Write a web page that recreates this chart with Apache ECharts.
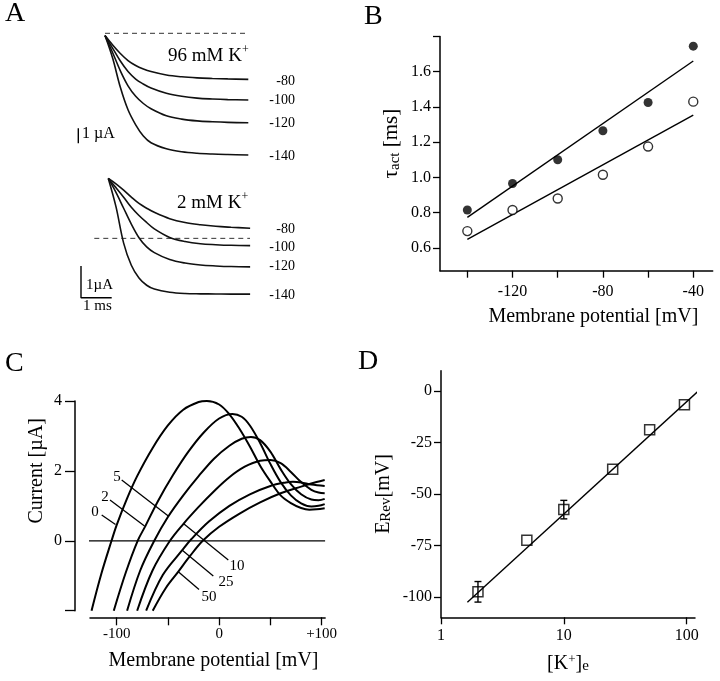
<!DOCTYPE html>
<html><head><meta charset="utf-8">
<script src="https://cdn.jsdelivr.net/npm/echarts@6/dist/echarts.min.js"></script>
<style>html,body{margin:0;padding:0;background:#fff}#c{width:720px;height:681px}</style>
</head><body><div id="c"></div>
<script>
// ---------- Panel A: current traces (time in ms, current in µA) ----------
const tA = [0, 0.25, 0.5, 0.75, 1.0, 1.25, 1.5, 2.0, 2.5, 3.0, 3.5, 4.0, 4.67];
const tB = [0, 0.25, 0.5, 0.75, 1.0, 1.25, 1.5, 2.0, 2.5, 3.0, 3.5, 4.0, 4.62];
const a96_m80  = [-0.15, -0.78, -1.35, -1.82, -2.15, -2.38, -2.55, -2.78, -2.9, -2.97, -3.01, -3.04, -3.07];
const a96_m100 = [-0.15, -1.0, -1.85, -2.55, -3.05, -3.38, -3.65, -4.0, -4.2, -4.32, -4.38, -4.42, -4.45];
const a96_m120 = [-0.15, -1.3, -2.5, -3.5, -4.2, -4.68, -5.03, -5.5, -5.72, -5.84, -5.9, -5.94, -5.96];
const a96_m140 = [-0.15, -1.67, -3.6, -5.1, -6.1, -6.85, -7.3, -7.7, -7.9, -8.0, -8.05, -8.08, -8.11];
const a2_m80  = [1.89, 1.72, 1.52, 1.3, 1.1, 0.95, 0.82, 0.62, 0.5, 0.43, 0.38, 0.35, 0.32];
const a2_m100 = [1.89, 1.6, 1.3, 0.98, 0.72, 0.5, 0.3, 0.03, -0.1, -0.17, -0.2, -0.22, -0.23];
const a2_m120 = [1.89, 1.45, 0.95, 0.45, 0.02, -0.27, -0.45, -0.67, -0.78, -0.84, -0.87, -0.89, -0.9];
const a2_m140 = [1.89, 1.0, -0.15, -0.85, -1.25, -1.48, -1.6, -1.7, -1.74, -1.75, -1.755, -1.76, -1.76];
const stepLabels = ['-80', '-100', '-120', '-140'];

// ---------- Panel B: tau_act vs membrane potential ----------
const potB = [-140, -120, -100, -80, -60, -40];
const tau96 = [0.815, 0.965, 1.10, 1.265, 1.425, 1.745];
const tau2 = [0.695, 0.815, 0.88, 1.015, 1.175, 1.43];
const fit96 = [[-140, 0.773], [-40, 1.661]];
const fit2 = [[-140, 0.648], [-40, 1.354]];

// ---------- Panel C: I-V curves for different [K+]e (mM) ----------
const ivLabels = ['0', '2', '5', '10', '25', '50'];
const ivK0 = [[-124.5,-2],[-115,-0.95],[-105,0],[-100,0.45],[-90,1.2],[-80,1.85],[-65,2.65],[-50,3.3],[-35,3.75],[-20,3.97],[-12,4.0],[0,3.9],[10,3.62],[20,3.2],[30,2.7],[40,2.15],[50,1.7],[60,1.3],[70,1.08],[80,0.94],[88,0.89],[95,0.9],[103,0.93]];
const ivK2 = [[-102.8,-2],[-91,-0.9],[-79.5,0],[-72,0.42],[-60,1.12],[-45,1.88],[-30,2.55],[-15,3.1],[0,3.5],[13,3.63],[22,3.55],[30,3.3],[40,2.8],[50,2.2],[60,1.68],[70,1.3],[80,1.07],[90,0.98],[97,1.0],[103,1.05]];
const ivK5 = [[-89.8,-2],[-77,-0.85],[-63.3,0],[-50,0.68],[-35,1.3],[-20,1.85],[-5,2.35],[10,2.72],[22,2.92],[31,2.97],[40,2.88],[50,2.55],[60,2.05],[70,1.62],[80,1.33],[90,1.18],[97,1.16],[103,1.2]];
const ivK10 = [[-80,-2],[-65,-0.85],[-48,0],[-35,0.48],[-20,0.97],[-5,1.42],[10,1.82],[25,2.12],[40,2.29],[50,2.31],[60,2.22],[70,1.97],[80,1.68],[90,1.46],[97,1.38],[103,1.36]];
const ivK25 = [[-71.2,-2],[-55,-0.98],[-36,-0.27],[-27,0.05],[-10,0.55],[10,1.0],[30,1.33],[50,1.57],[65,1.67],[72,1.69],[80,1.67],[90,1.61],[103,1.57]];
const ivK50 = [[-64.8,-2],[-52,-1.35],[-40,-0.89],[-28,-0.42],[-16,0],[0,0.4],[20,0.78],[40,1.1],[60,1.36],[80,1.55],[95,1.68],[103,1.74]];
const zeroLineC = [[-140.6, 0], [103.4, 0]];

// ---------- Panel D: reversal potential vs [K+]e ----------
const kD = [2, 5, 10, 25, 50, 96];
const erevD = [-97.6, -72.5, -57.6, -37.9, -18.7, -6.6];
const errD = [5, 0, 4.5, 0, 0, 0];
const fitD = [[1.64, -102.7], [127.6, 0.7]];

const FF = "'Liberation Serif','DejaVu Serif',serif";
const zip = (t, v) => t.map((x, i) => [x, v[i]]);

const traceSeries = (data, gi) => ({
  type: 'line', xAxisIndex: gi, yAxisIndex: gi, data, showSymbol: false, symbol: 'none',
  smooth: 0.35, lineStyle: { color: '#111', width: 1.6 }, silent: true, z: 3
});
const ivSeries = (data) => ({
  type: 'line', xAxisIndex: 3, yAxisIndex: 3, data, showSymbol: false, symbol: 'none',
  smooth: 0.35, lineStyle: { color: '#000', width: 2 }, silent: true, clip: false
});
const hidden = (gi, min, max) => ({ type: 'value', gridIndex: gi, min, max, show: false });
const axLine = { show: true, onZero: false, lineStyle: { color: '#000', width: 1.5 } };
const lbl = (size, margin, extra) => Object.assign({ color: '#000', fontFamily: FF, fontSize: size, margin }, extra);

const option = {
  animation: false,
  textStyle: { fontFamily: FF, color: '#000' },
  grid: [
    { left: 78, top: 25.8, width: 170.3, height: 142.5, outerBoundsMode: 'none' },
    { left: 81, top: 168.6, width: 169, height: 139.5, outerBoundsMode: 'none' },
    { left: 440, top: 36.5, width: 272.7, height: 234.2, outerBoundsMode: 'none' },
    { left: 90, top: 401, width: 235.1, height: 209.7, outerBoundsMode: 'none' },
    { left: 441, top: 370.7, width: 254, height: 246.6, outerBoundsMode: 'none' }
  ],
  xAxis: [
    hidden(0, -0.88, 4.67),
    hidden(1, -0.889, 4.616),
    { type: 'value', gridIndex: 2, min: -152.1, max: -31.4, splitLine: { show: false }, axisLine: axLine,
      axisTick: { show: true, length: 7, lineStyle: { color: '#000', width: 1.3 }, customValues: [-140, -120, -100, -80, -60, -40] },
      axisLabel: lbl(16, 13, { customValues: [-120, -80, -40] }),
      name: 'Membrane potential [mV]', nameLocation: 'middle', nameGap: 36,
      nameTextStyle: { fontFamily: FF, fontSize: 20, color: '#000', padding: [0, 0, 0, 34] } },
    { type: 'value', gridIndex: 3, min: -126, max: 103.4, offset: 6.6, splitLine: { show: false }, axisLine: axLine,
      axisTick: { show: true, length: 8, lineStyle: { color: '#000', width: 1.3 }, customValues: [-100, -50, 0, 50, 100] },
      axisLabel: lbl(15, 9, { customValues: [-100, 0, 100], formatter: v => (v > 0 ? '+' + v : String(v)) }),
      name: 'Membrane potential [mV]', nameLocation: 'middle', nameGap: 33,
      nameTextStyle: { fontFamily: FF, fontSize: 20, color: '#000', padding: [0, 0, 0, 12] } },
    { type: 'log', gridIndex: 4, min: 1, max: 117, logBase: 10, splitLine: { show: false }, axisLine: axLine,
      axisTick: { show: true, length: 7, lineStyle: { color: '#000', width: 1.3 }, customValues: [1, 10, 100] },
      axisLabel: lbl(16, 10, { customValues: [1, 10, 100] }), minorTick: { show: false },
      name: '{m|[K}{sup|+}{m|]}{sub|e}', nameLocation: 'middle', nameGap: 36,
      nameTextStyle: { fontFamily: FF, color: '#000',
        rich: { m: { fontSize: 20, fontFamily: FF, lineHeight: 20, verticalAlign: 'top', padding: [0, 0, 5, 0] },
                sup: { fontSize: 13, fontFamily: FF, lineHeight: 13, verticalAlign: 'top' },
                sub: { fontSize: 15, fontFamily: FF, lineHeight: 15, verticalAlign: 'bottom' } } } }
  ],
  yAxis: [
    hidden(0, -9, 0.5),
    hidden(1, -2.2, 2.2),
    { type: 'value', gridIndex: 2, min: 0.47, max: 1.8, splitLine: { show: false }, axisLine: axLine,
      axisTick: { show: true, length: 7, lineStyle: { color: '#000', width: 1.3 }, customValues: [0.6, 0.8, 1.0, 1.2, 1.4, 1.6, 1.8] },
      axisLabel: lbl(16, 9, { customValues: [0.6, 0.8, 1.0, 1.2, 1.4, 1.6], formatter: v => v.toFixed(1) }),
      name: '{m|τ}{sub|act}{m| [ms]}', nameLocation: 'middle', nameGap: 36, nameRotate: 90,
      nameTextStyle: { fontFamily: FF, color: '#000', padding: [0, 0, 0, 20],
        rich: { m: { fontSize: 21, fontFamily: FF, lineHeight: 21, verticalAlign: 'top', padding: [0, 0, 5, 0] },
                sub: { fontSize: 15, fontFamily: FF, lineHeight: 15, verticalAlign: 'bottom' } } } },
    { type: 'value', gridIndex: 3, min: -2, max: 4, offset: 15, splitLine: { show: false }, axisLine: axLine,
      axisTick: { show: true, length: 10, lineStyle: { color: '#000', width: 1.3 }, customValues: [-2, 0, 2, 4] },
      axisLabel: lbl(16, 13, { customValues: [0, 2, 4] }),
      name: 'Current [µA]', nameLocation: 'middle', nameGap: 28, nameRotate: 90,
      nameTextStyle: { fontFamily: FF, fontSize: 20, color: '#000', padding: [0, 0, 0, 70] } },
    { type: 'value', gridIndex: 4, min: -110, max: 10, splitLine: { show: false }, axisLine: axLine,
      axisTick: { show: true, length: 7, lineStyle: { color: '#000', width: 1.3 }, customValues: [-100, -75, -50, -25, 0] },
      axisLabel: lbl(16, 9, { customValues: [-100, -75, -50, -25, 0] }),
      name: '{m|E}{sub|Rev}{m|[mV]}', nameLocation: 'middle', nameGap: 40, nameRotate: 90,
      nameTextStyle: { fontFamily: FF, color: '#000',
        rich: { m: { fontSize: 20, fontFamily: FF, lineHeight: 20, verticalAlign: 'top', padding: [0, 0, 5, 0] },
                sub: { fontSize: 15, fontFamily: FF, lineHeight: 15, verticalAlign: 'bottom' } } } }
  ],
  series: [
    // Panel A, 96 mM
    { type: 'line', xAxisIndex: 0, yAxisIndex: 0, data: [[0, 0], [4.67, 0]], symbol: 'none',
      lineStyle: { color: '#333', width: 1, type: [5, 4] }, silent: true },
    traceSeries(zip(tA, a96_m80), 0), traceSeries(zip(tA, a96_m100), 0),
    traceSeries(zip(tA, a96_m120), 0), traceSeries(zip(tA, a96_m140), 0),
    { type: 'line', xAxisIndex: 0, yAxisIndex: 0, data: [[-0.87, -6.33], [-0.87, -7.33]], symbol: 'none',
      lineStyle: { color: '#000', width: 1.4 }, silent: true },
    // Panel A, 2 mM
    { type: 'line', xAxisIndex: 1, yAxisIndex: 1, data: [[-0.456, 0], [4.616, 0]], symbol: 'none',
      lineStyle: { color: '#333', width: 1, type: [5, 4] }, silent: true },
    traceSeries(zip(tB, a2_m80), 1), traceSeries(zip(tB, a2_m100), 1),
    traceSeries(zip(tB, a2_m120), 1), traceSeries(zip(tB, a2_m140), 1),
    { type: 'line', xAxisIndex: 1, yAxisIndex: 1, data: [[-0.889, -0.874], [-0.889, -1.874], [0.111, -1.874]], symbol: 'none',
      lineStyle: { color: '#000', width: 1.4 }, silent: true },
    // Panel B
    { type: 'line', xAxisIndex: 2, yAxisIndex: 2, data: fit96, symbol: 'none', lineStyle: { color: '#000', width: 1.4 }, silent: true },
    { type: 'line', xAxisIndex: 2, yAxisIndex: 2, data: fit2, symbol: 'none', lineStyle: { color: '#000', width: 1.4 }, silent: true },
    { type: 'scatter', xAxisIndex: 2, yAxisIndex: 2, data: zip(potB, tau96), symbol: 'circle', symbolSize: 9,
      itemStyle: { color: '#000' }, silent: true, z: 5 },
    { type: 'scatter', xAxisIndex: 2, yAxisIndex: 2, data: zip(potB, tau2), symbol: 'circle', symbolSize: 9,
      itemStyle: { color: '#fff', borderColor: '#000', borderWidth: 1.4 }, silent: true, z: 5 },
    // Panel C
    { type: 'line', xAxisIndex: 3, yAxisIndex: 3, data: zeroLineC, symbol: 'none', clip: false,
      lineStyle: { color: '#000', width: 1.3 }, silent: true },
    ivSeries(ivK0), ivSeries(ivK2), ivSeries(ivK5), ivSeries(ivK10), ivSeries(ivK25), ivSeries(ivK50),
    // Panel D
    { type: 'line', xAxisIndex: 4, yAxisIndex: 4, data: fitD, symbol: 'none', clip: false,
      lineStyle: { color: '#000', width: 1.4 }, silent: true },
    { type: 'custom', xAxisIndex: 4, yAxisIndex: 4, silent: true, z: 4,
      data: kD.map((k, i) => [k, erevD[i] - errD[i], erevD[i] + errD[i]]).filter((d, i) => errD[i] > 0),
      renderItem: (params, api) => {
        const lo = api.coord([api.value(0), api.value(1)]);
        const hi = api.coord([api.value(0), api.value(2)]);
        const w = 3.5, st = { stroke: '#000', lineWidth: 1.4 };
        return { type: 'group', children: [
          { type: 'line', shape: { x1: lo[0], y1: lo[1], x2: hi[0], y2: hi[1] }, style: st },
          { type: 'line', shape: { x1: lo[0] - w, y1: lo[1], x2: lo[0] + w, y2: lo[1] }, style: st },
          { type: 'line', shape: { x1: hi[0] - w, y1: hi[1], x2: hi[0] + w, y2: hi[1] }, style: st }
        ] };
      } },
    { type: 'scatter', xAxisIndex: 4, yAxisIndex: 4, data: zip(kD, erevD), symbol: 'rect', symbolSize: 10,
      itemStyle: { color: 'rgba(255,255,255,0)', borderColor: '#000', borderWidth: 1.5 }, silent: true, z: 5 }
  ],
  graphic: { elements: [] }
};

const G = option.graphic.elements;
const txt = (text, x, y, size, align, extra) => G.push(Object.assign({ type: 'text', x, y, silent: true,
  style: { text, fontSize: size, fontFamily: FF, fill: '#000', align: align || 'left', verticalAlign: 'middle' } }, extra || {}));
const seg = (x1, y1, x2, y2) => G.push({ type: 'line', silent: true, shape: { x1, y1, x2, y2 }, style: { stroke: '#000', lineWidth: 1.3 } });

// panel letters
txt('A', 5, 14, 28); txt('B', 364, 16.5, 28); txt('C', 5, 364, 28); txt('D', 358, 362, 28);
// panel A annotations
const richK = { m: { fontSize: 19, fontFamily: FF, fill: '#000', lineHeight: 22, verticalAlign: 'bottom' },
                s: { fontSize: 12, fontFamily: FF, fill: '#000', lineHeight: 22, verticalAlign: 'top' } };
G.push({ type: 'text', x: 168, y: 55, silent: true, style: { text: '{m|96 mM K}{s|+}', rich: richK, verticalAlign: 'middle', align: 'left' } });
G.push({ type: 'text', x: 177, y: 201.7, silent: true, style: { text: '{m|2 mM K}{s|+}', rich: richK, verticalAlign: 'middle', align: 'left' } });
[81.7, 100.5, 123.3, 156.7].forEach((y, i) => txt(stepLabels[i], 295, y, 14, 'right'));
[229.3, 247.3, 266.7, 295].forEach((y, i) => txt(stepLabels[i], 295, y, 14, 'right'));
txt('1 µA', 82, 133.5, 16); txt('1µA', 86, 285, 15); txt('1 ms', 83, 306.5, 15);
// panel C curve labels and pointers
[[95, 512], [105, 497], [117, 477], [237, 566], [226, 582.5], [209, 597.5]].forEach((p, i) => txt(ivLabels[i], p[0], p[1], 15, 'center'));
seg(101.7, 515, 115.5, 524.5); seg(110, 500, 144.5, 526); seg(121.7, 480, 168.3, 516);
seg(184, 524, 228.3, 560); seg(182, 550, 213.3, 576); seg(178, 571.5, 199, 589.5);

echarts.init(document.getElementById('c'), null, { renderer: 'canvas' }).setOption(option);
</script></body></html>
